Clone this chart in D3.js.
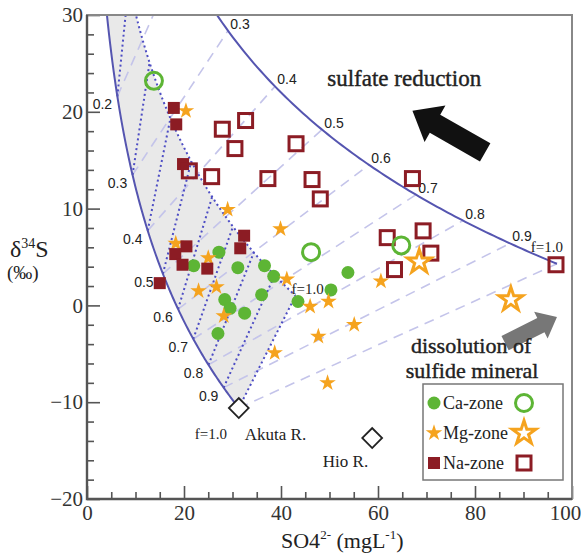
<!DOCTYPE html>
<html>
<head>
<meta charset="utf-8">
<script src="https://cdn.jsdelivr.net/npm/d3@7"></script>
<style>
  body { margin: 0; background: #fff; }
  svg { display: block; font-family: "Liberation Serif", "Times New Roman", serif; }
</style>
</head>
<body>
<svg id="chart"></svg>
<script>
// samples: [SO4 (mg/L), d34S (permil)]
var caFilled = [[22.0,4.1],[27.2,5.5],[31.1,3.9],[36.6,4.1],[38.5,3.0],[28.4,0.6],[29.5,-0.3],[32.5,-0.8],[27.0,-2.9],[36.0,1.1],[43.5,0.4],[50.3,1.6],[53.8,3.4]];
var caOpen = [[13.8,23.2],[46.2,5.5],[64.8,6.2]];
var mgFilled = [[20.4,20.1],[29.0,9.9],[39.9,7.9],[18.3,6.4],[25.0,4.9],[23.0,1.5],[26.7,1.9],[28.2,-1.1],[38.7,-4.9],[41.2,2.7],[46.0,-0.1],[49.8,0.4],[55.1,-2.0],[47.7,-3.2],[49.6,-8.0],[60.6,2.5]];
var mgOpen = [[68.5,4.5],[87.4,0.6]];
var naFilled = [[17.9,20.4],[18.4,18.7],[19.8,14.6],[20.5,6.1],[18.2,5.3],[19.7,4.2],[24.8,3.8],[32.4,7.2],[31.6,5.9],[15.0,2.3]];
var naOpen = [[27.9,18.2],[32.7,19.1],[30.5,16.2],[21.1,13.9],[25.7,13.3],[37.3,13.1],[43.1,16.7],[46.4,13.0],[48.1,11.0],[67.1,13.1],[61.9,7.0],[69.3,7.7],[70.9,5.4],[63.4,3.7],[96.7,4.2]];
var riverNames = ["Akuta R.", "Hio R."];
var riverValues = [[31.3,-10.6],[58.8,-13.7]];

// Rayleigh model lines: end members at f = 1 and enrichment factor
var akutaEnd = [31.3, -10.6];
var mixEnd = [43.0, 1.0];
var upperEnd = [96.9, 4.3];
var epsilon = 20;
var fLabels = [0.2, 0.3, 0.4, 0.5, 0.6, 0.7, 0.8, 0.9];
var fLines = [0.2, 0.3, 0.4, 0.5, 0.6, 0.7, 0.8, 0.9, 1.0];

var xTicks = [0, 20, 40, 60, 80, 100];
var yTicks = [-20, -10, 0, 10, 20, 30];

var width = 581, height = 560;
var x = d3.scaleLinear().domain([0, 100]).range([87, 572]);
var y = d3.scaleLinear().domain([-20, 30]).range([499, 15]);

var svg = d3.select("#chart").attr("width", width).attr("height", height);

svg.append("defs").append("clipPath").attr("id", "plotClip")
  .append("rect")
  .attr("x", x(0)).attr("y", y(30))
  .attr("width", x(100) - x(0)).attr("height", y(-20) - y(30));

function rayleigh(end, f) {
  return [end[0] * f, end[1] - epsilon * Math.log(f)];
}

function curvePoints(end, fFrom, fTo) {
  var pts = [];
  var n = 120;
  for (var i = 0; i <= n; i++) {
    var f = fFrom + (fTo - fFrom) * i / n;
    pts.push(rayleigh(end, f));
  }
  return pts;
}

var line = d3.line().x(d => x(d[0])).y(d => y(d[1]));

var plot = svg.append("g").attr("clip-path", "url(#plotClip)");

// shaded zone between the Akuta curve and the mixed-end curve
var zone = curvePoints(akutaEnd, 0.1, 1).concat(curvePoints(mixEnd, 1, 0.15));
plot.append("path")
  .attr("d", line(zone) + "Z")
  .attr("fill", "#e9e9e9");

// dashed mixing lines between the two solid curves
plot.selectAll(".mixDash")
  .data(fLines)
  .join("path")
  .attr("class", "mixDash")
  .attr("d", f => line([rayleigh(akutaEnd, f), rayleigh(upperEnd, f)]))
  .attr("fill", "none")
  .attr("stroke", "#c4c4ea")
  .attr("stroke-width", 1.6)
  .attr("stroke-dasharray", "10,7");

// dotted lines inside the shaded zone
plot.selectAll(".mixDot")
  .data(fLines)
  .join("path")
  .attr("class", "mixDot")
  .attr("d", f => line([rayleigh(akutaEnd, f), rayleigh(mixEnd, f)]))
  .attr("fill", "none")
  .attr("stroke", "#4d4dc4")
  .attr("stroke-width", 2)
  .attr("stroke-dasharray", "2,3");

plot.append("path")
  .attr("d", line(curvePoints(mixEnd, 0.15, 1)))
  .attr("fill", "none")
  .attr("stroke", "#4d4dc4")
  .attr("stroke-width", 2)
  .attr("stroke-dasharray", "2,3");

// solid Rayleigh curves
[akutaEnd, upperEnd].forEach(function (end) {
  plot.append("path")
    .attr("d", line(curvePoints(end, 0.1, 1)))
    .attr("fill", "none")
    .attr("stroke", "#5555b0")
    .attr("stroke-width", 2);
});

// f labels
var labelFont = "'Liberation Sans', Arial, sans-serif";
svg.selectAll(".fLeft")
  .data(fLabels)
  .join("text")
  .attr("x", f => x(rayleigh(akutaEnd, f)[0]) - (f === 0.5 ? 19 : 15))
  .attr("y", f => y(rayleigh(akutaEnd, f)[1]) + 8)
  .attr("text-anchor", "middle")
  .attr("dominant-baseline", "central")
  .style("font-family", labelFont)
  .style("font-size", "14px")
  .attr("fill", "#222")
  .text(f => f.toFixed(1));

svg.selectAll(".fRight")
  .data(fLabels.slice(1))
  .join("text")
  .attr("x", f => x(rayleigh(upperEnd, f)[0]) + 12)
  .attr("y", f => y(rayleigh(upperEnd, f)[1]) - 7)
  .attr("text-anchor", "middle")
  .attr("dominant-baseline", "central")
  .style("font-family", labelFont)
  .style("font-size", "14px")
  .attr("fill", "#222")
  .text(f => f.toFixed(1));

function fOneLabel(end, dx, dy) {
  svg.append("text")
    .attr("x", x(end[0]) + dx)
    .attr("y", y(end[1]) + dy)
    .attr("text-anchor", "middle")
    .attr("dominant-baseline", "central")
    .style("font-size", "15px")
    .attr("fill", "#222")
    .text("f=1.0");
}
fOneLabel(akutaEnd, -28, 26);
fOneLabel(mixEnd, 12, -7);
fOneLabel(upperEnd, -10, -17);

// arrows
function arrowPath(p0, p1, shaft, headW, headL) {
  var x0 = x(p0[0]), y0 = y(p0[1]), x1 = x(p1[0]), y1 = y(p1[1]);
  var dx = x1 - x0, dy = y1 - y0, len = Math.hypot(dx, dy);
  var ux = dx / len, uy = dy / len, nx = -uy, ny = ux;
  var bx = x1 - ux * headL, by = y1 - uy * headL;
  var pts = [
    [x0 + nx * shaft / 2, y0 + ny * shaft / 2],
    [bx + nx * shaft / 2, by + ny * shaft / 2],
    [bx + nx * headW / 2, by + ny * headW / 2],
    [x1, y1],
    [bx - nx * headW / 2, by - ny * headW / 2],
    [bx - nx * shaft / 2, by - ny * shaft / 2],
    [x0 - nx * shaft / 2, y0 - ny * shaft / 2]
  ];
  return "M" + pts.map(p => p.join(",")).join("L") + "Z";
}
svg.append("path").attr("d", arrowPath([82.1, 15.8], [67.1, 20.1], 21, 42, 26)).attr("fill", "#111");
svg.append("path").attr("d", arrowPath([86.2, -3.9], [96.9, -1.2], 16, 30, 18)).attr("fill", "#777");

function note(text, xv, yv, size) {
  svg.append("text")
    .attr("x", x(xv)).attr("y", y(yv))
    .attr("text-anchor", "middle")
    .style("font-size", size + "px")
    .style("stroke", "#222").style("stroke-width", 0.4)
    .attr("fill", "#222")
    .text(text);
}
note("sulfate reduction", 65.4, 22.7, 23);
note("dissolution of", 79.2, -4.9, 22);
note("sulfide mineral", 79.4, -7.5, 22);

// markers
var green = "#5db535", orange = "#f5a31e", red = "#8c1c24";
var star = d3.symbol().type(d3.symbolStar);

function drawPoints(data, make) {
  data.forEach(function (d) { make(svg, x(d[0]), y(d[1])); });
}
function filledCircle(g, cx, cy) {
  g.append("circle").attr("cx", cx).attr("cy", cy).attr("r", 6.5).attr("fill", green);
}
function openCircle(g, cx, cy) {
  g.append("circle").attr("cx", cx).attr("cy", cy).attr("r", 8.5)
    .attr("fill", "none").attr("stroke", green).attr("stroke-width", 3);
}
function filledStar(g, cx, cy) {
  g.append("path").attr("d", star.size(85)()).attr("transform", `translate(${cx},${cy})`)
    .attr("fill", orange);
}
function openStar(g, cx, cy) {
  g.append("path").attr("d", star.size(175)()).attr("transform", `translate(${cx},${cy})`)
    .attr("fill", "#fff").attr("stroke", orange).attr("stroke-width", 3).attr("stroke-linejoin", "miter");
}
function filledSquare(g, cx, cy) {
  g.append("rect").attr("x", cx - 6).attr("y", cy - 6).attr("width", 12).attr("height", 12).attr("fill", red);
}
function openSquare(g, cx, cy) {
  g.append("rect").attr("x", cx - 7).attr("y", cy - 7).attr("width", 14).attr("height", 14)
    .attr("fill", "none").attr("stroke", red).attr("stroke-width", 3);
}

drawPoints(caFilled, filledCircle);
drawPoints(mgFilled, filledStar);
drawPoints(naFilled, filledSquare);
drawPoints(naOpen, openSquare);
drawPoints(caOpen, openCircle);
drawPoints(mgOpen, openStar);

// river end members
riverValues.forEach(function (d, i) {
  var cx = x(d[0]), cy = y(d[1]);
  svg.append("rect")
    .attr("x", -7).attr("y", -7).attr("width", 14).attr("height", 14)
    .attr("transform", `translate(${cx},${cy}) rotate(45)`)
    .attr("fill", "#fff").attr("stroke", "#222").attr("stroke-width", 1.8);
  svg.append("text")
    .attr("x", i === 0 ? cx + 6 : cx - 4)
    .attr("y", cy + (i === 0 ? 32 : 29))
    .attr("text-anchor", i === 0 ? "start" : "end")
    .style("font-size", "17px")
    .attr("fill", "#222")
    .text(riverNames[i]);
});

// legend
var legend = svg.append("g");
legend.append("rect")
  .attr("x", 423).attr("y", 384).attr("width", 140).attr("height", 96)
  .attr("fill", "#fff").attr("stroke", "#777").attr("stroke-width", 1.5);
var legendRows = [
  { label: "Ca-zone", filled: filledCircle, open: openCircle },
  { label: "Mg-zone", filled: filledStar, open: openStar },
  { label: "Na-zone", filled: filledSquare, open: openSquare }
];
legendRows.forEach(function (r, i) {
  var ly = 403 + i * 30;
  r.filled(legend, 434, ly);
  legend.append("text")
    .attr("x", 443).attr("y", ly + 6)
    .style("font-size", "18px")
    .attr("fill", "#222")
    .text(r.label);
  r.open(legend, 524, ly);
});

// axes
var yMinor = d3.range(-20, 31, 2).filter(v => v % 10 !== 0);
var xMinor = d3.range(0, 101, 5).filter(v => v % 20 !== 0);

svg.append("g").attr("transform", `translate(${x(0)},0)`)
  .call(d3.axisLeft(y).tickValues(yTicks).tickSize(-13).tickPadding(4));
svg.append("g").attr("transform", `translate(${x(0)},0)`)
  .call(d3.axisLeft(y).tickValues(yMinor).tickSize(-7).tickFormat(""));
var xAxis = svg.append("g").attr("transform", `translate(0,${y(-20)})`)
  .call(d3.axisBottom(x).tickValues(xTicks).tickSize(-13).tickPadding(6));
svg.append("g").attr("transform", `translate(0,${y(-20)})`)
  .call(d3.axisBottom(x).tickValues(xMinor).tickSize(-7).tickFormat(""));

svg.selectAll(".domain").remove();
svg.selectAll(".tick line").attr("stroke", "#555").attr("stroke-width", 1.6);
svg.selectAll(".tick text")
  .style("font-family", "'Liberation Serif', serif")
  .style("font-size", "21px")
  .attr("fill", "#333");
// keep the last x label inside the window
xAxis.selectAll(".tick text").filter(d => d === 100).attr("dx", -7);

// frame
svg.append("rect")
  .attr("x", x(0)).attr("y", y(30))
  .attr("width", x(100) - x(0)).attr("height", y(-20) - y(30))
  .attr("fill", "none").attr("stroke", "#888").attr("stroke-width", 2);
svg.append("path")
  .attr("d", `M${x(0)},${y(30)}V${y(-20)}H${x(100)}`)
  .attr("fill", "none").attr("stroke", "#555").attr("stroke-width", 2.4);

// axis titles
var yTitle = svg.append("text").attr("x", 10).attr("y", 257).attr("fill", "#222").style("font-size", "24px");
yTitle.append("tspan").text("δ");
yTitle.append("tspan").attr("dy", -9).style("font-size", "14px").text("34");
yTitle.append("tspan").attr("dy", 9).text("S");
svg.append("text").attr("x", 7).attr("y", 279).attr("fill", "#222").style("font-size", "19px").text("(‰)");

var xTitle = svg.append("text").attr("x", 281).attr("y", 548).attr("fill", "#222").style("font-size", "22px");
xTitle.append("tspan").text("SO4");
xTitle.append("tspan").attr("dy", -9).style("font-size", "13px").text("2-");
xTitle.append("tspan").attr("dy", 9).text(" (mgL");
xTitle.append("tspan").attr("dy", -9).style("font-size", "13px").text("-1");
xTitle.append("tspan").attr("dy", 9).text(")");
</script>
</body>
</html>
